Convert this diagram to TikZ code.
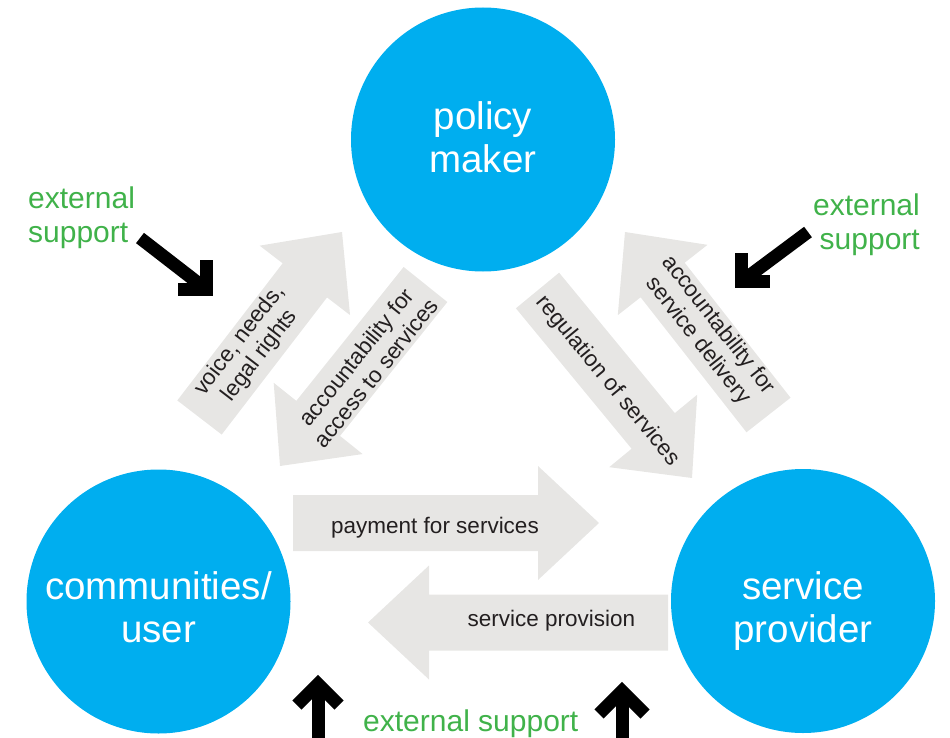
\documentclass[tikz,border=0pt]{standalone}
\usepackage{fontspec}
\setmainfont{Liberation Sans}
\usetikzlibrary{calc}
\definecolor{cblue}{RGB}{0,174,239}
\definecolor{agray}{RGB}{231,230,228}
\definecolor{egreen}{RGB}{64,178,74}
\definecolor{ltext}{RGB}{35,31,32}
\newcommand\flowarrow[3]{%
  \coordinate (#1-t) at (#2);
  \coordinate (#1-p) at (#3);
  \coordinate (#1-h) at ($(#1-p)!61pt!(#1-t)$);
  \fill[agray] ($(#1-t)!28pt!90:(#1-p)$) -- ($(#1-h)!28pt!90:(#1-p)$)
    -- ($(#1-h)!57pt!90:(#1-p)$) -- (#1-p) -- ($(#1-h)!57pt!-90:(#1-p)$)
    -- ($(#1-h)!28pt!-90:(#1-p)$) -- ($(#1-t)!28pt!-90:(#1-p)$) -- cycle;
}
\begin{document}
\begin{tikzpicture}[x=1pt,y=-1pt,
  hub/.style={circle, fill=cblue, draw=none, minimum size=264pt, inner sep=0pt},
  hubtext/.style={text=white, font=\fontsize{38.5}{43}\selectfont, align=center, anchor=base, inner sep=0pt},
  flowtext/.style={text=ltext, font=\fontsize{22.5}{25.5}\selectfont, align=center, inner sep=0pt},
  ext/.style={text=egreen, font=\fontsize{30}{34}\selectfont, inner sep=0pt},
  push/.style={line width=13pt, draw=black},
  chev/.style={line width=13pt, draw=black, line join=miter},
]
\useasboundingbox (0,0) rectangle (950,738);

% grey flow arrows
\flowarrow{A}{199.5,417.5}{342,232}
\flowarrow{B}{425.5,284.5}{280,466}
\flowarrow{C}{537.5,290.5}{692,478}
\flowarrow{D}{768.5,415}{625,232}
\flowarrow{E}{293,523}{599,523}
\flowarrow{F}{668,622.5}{368,622.5}

% actors
\node[hub] (pm) at (483,139.5) {};
\node[hub] (cu) at (158.5,601.5) {};
\node[hub] (sp) at (803,601) {};
\node[hubtext] (pmt) at (483,172.7) {policy\\maker};
\node[hubtext] (cut) at (158.5,642) {communities/\\user};
\node[hubtext] (spt) at (803,642) {service\\provider};

% flow labels
\node[flowtext, rotate=52.5] (Al) at (250,348) {voice, needs,\\legal rights};
\node[flowtext, rotate=51.3] (Bl) at (366,365) {accountability for\\access to services};
\node[flowtext, rotate=-50.5] (Cl) at (608,381) {regulation of services};
\node[flowtext, rotate=-51.9] (Dl) at (708,333) {accountability for\\service delivery};
\node[flowtext, anchor=base] (El) at (435,533) {payment for services};
\node[flowtext, anchor=base] (Fl) at (551.5,626.7) {service provision};

% external support labels
\node[ext, align=left, anchor=base west] (ex1) at (28,242) {external\\support};
\node[ext, align=right, anchor=base east] (ex2) at (920,249.5) {external\\support};
\node[ext, anchor=base west] (ex3) at (363,731.7) {external support};

% black support arrows
\coordinate (k1s) at (140,238); \coordinate (k1c) at (206.5,289.5);
\coordinate (k1a) at (178,289.5); \coordinate (k1b) at (206.5,260);
\draw[push] (k1s) -- (k1c);
\draw[chev] (k1a) -- (k1c) -- (k1b);

\coordinate (k2s) at (808,232); \coordinate (k2c) at (741.5,281.5);
\coordinate (k2a) at (741.5,253); \coordinate (k2b) at (770,281.5);
\draw[push] (k2s) -- (k2c);
\draw[chev] (k2a) -- (k2c) -- (k2b);

\coordinate (k3s) at (318,745); \coordinate (k3c) at (318,684);
\coordinate (k3a) at (297,705); \coordinate (k3b) at (339,705);
\draw[push] (k3s) -- (k3c);
\draw[chev] (k3a) -- (k3c) -- (k3b);

\coordinate (k4s) at (622,745); \coordinate (k4c) at (622,691);
\coordinate (k4a) at (599,714); \coordinate (k4b) at (645,714);
\draw[push] (k4s) -- (k4c);
\draw[chev] (k4a) -- (k4c) -- (k4b);
\end{tikzpicture}
\end{document}
